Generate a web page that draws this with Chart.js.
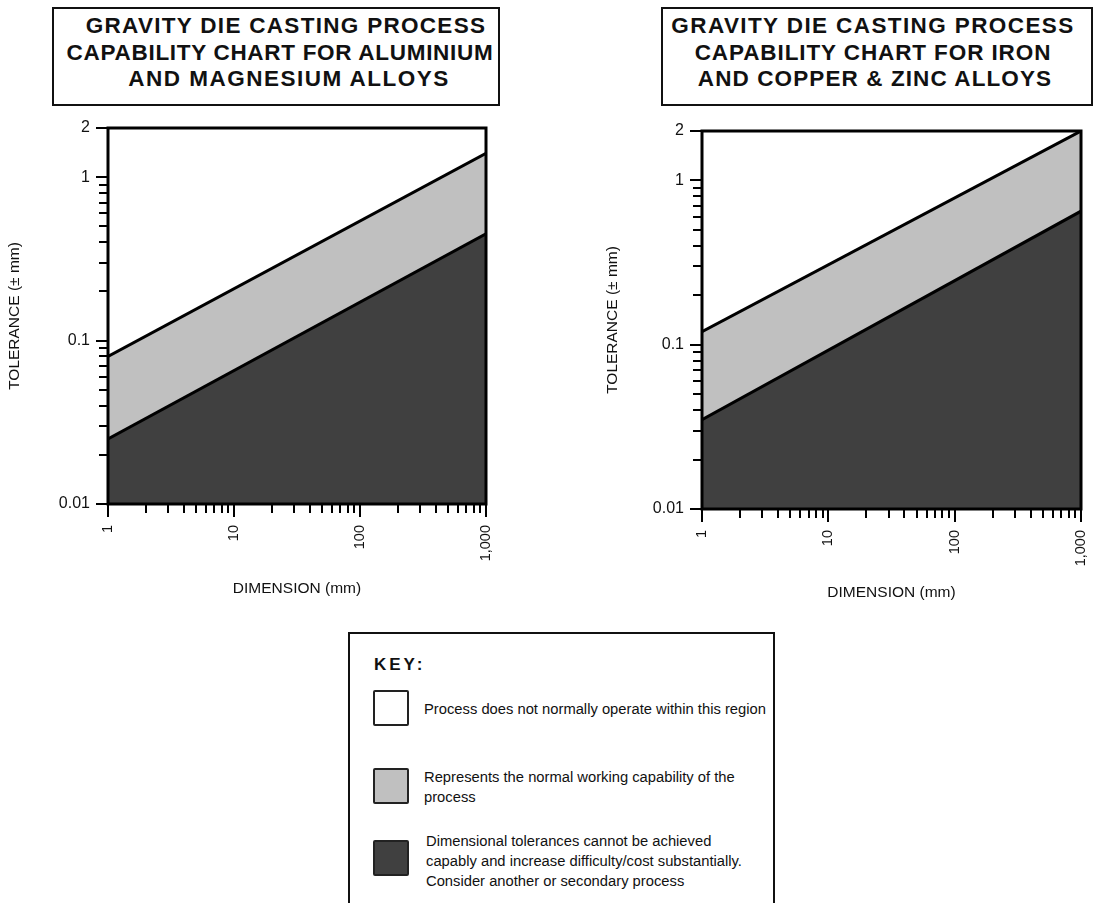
<!DOCTYPE html>
<html>
<head>
<meta charset="utf-8">
<script src="https://cdn.jsdelivr.net/npm/chart.js@4.4.0/dist/chart.umd.min.js"></script>
<style>
  html, body { margin: 0; padding: 0; background: #fff; }
  body {
    position: relative; width: 1098px; height: 903px; overflow: hidden;
    font-family: "Liberation Sans", Arial, Helvetica, sans-serif; color: #111;
  }
  .title-box {
    position: absolute; top: 7px; height: 91px;
    border: 2px solid #111;
    padding-top: 4px;
    font-weight: bold; font-size: 22.5px; letter-spacing: 1px;
    line-height: 26.5px; text-align: center; white-space: nowrap;
  }
  .title-box div { position: relative; }
  .plot { position: absolute; }
  .key-box {
    position: absolute; left: 348px; top: 632px; width: 423px; height: 300px;
    border: 2px solid #111;
  }
  .key-title {
    position: absolute; left: 24px; top: 22px; line-height: 18px;
    font-weight: bold; font-size: 17px; letter-spacing: 3px;
  }
  .swatch {
    position: absolute; left: 23px; width: 32px; height: 32px;
    border: 2px solid #222; border-radius: 2px;
  }
  .key-text {
    position: absolute; font-size: 14.75px; line-height: 20px; white-space: nowrap;
  }
</style>
</head>
<body>

<div class="title-box" style="left:52px; width:444px;">
  <div style="left:10px; letter-spacing:1.3px;">GRAVITY DIE CASTING PROCESS</div>
  <div style="left:4px; letter-spacing:0.7px;">CAPABILITY CHART FOR ALUMINIUM</div>
  <div style="left:13px; letter-spacing:1.5px;">AND MAGNESIUM ALLOYS</div>
</div>
<div class="title-box" style="left:661px; width:428px;">
  <div style="left:-4px; letter-spacing:1.4px;">GRAVITY DIE CASTING PROCESS</div>
  <div style="left:-4px; letter-spacing:0.9px;">CAPABILITY CHART FOR IRON</div>
  <div style="left:-2px; letter-spacing:1.1px;">AND COPPER &amp; ZINC ALLOYS</div>
</div>

<div class="plot" style="left:0px; top:110px;"><canvas id="alChart" width="520" height="500"></canvas></div>
<div class="plot" style="left:598px; top:110px;"><canvas id="feChart" width="500" height="500"></canvas></div>

<div class="key-box">
  <div class="key-title">KEY:</div>
  <div class="swatch" style="top:56px; background:#ffffff;"></div>
  <div class="key-text" style="left:74px; top:65px;">Process does not normally operate within this region</div>
  <div class="swatch" style="top:134px; background:#c0c0c0;"></div>
  <div class="key-text" style="left:74px; top:133px;">Represents the normal working capability of the<br>process</div>
  <div class="swatch" style="top:206px; background:#404040;"></div>
  <div class="key-text" style="left:76px; top:197px;">Dimensional tolerances cannot be achieved<br>capably and increase difficulty/cost substantially.<br>Consider another or secondary process</div>
</div>

<script>
// Band edges at 1 mm and 1,000 mm (tolerance in ± mm)
const dimensionMm = [1, 1000];
const alNormalUpper = [0.08, 1.4];
const alNormalLower = [0.025, 0.45];
const feNormalUpper = [0.12, 2];
const feNormalLower = [0.035, 0.65];

// Axis ticks
const xMajor = [1, 10, 100, 1000];
const xTickLabels = ['1', '10', '100', '1,000'];
const xMinor = [2, 3, 4, 5, 6, 7, 8, 9, 20, 30, 40, 50, 60, 70, 80, 90, 200, 300, 400, 500, 600, 700, 800, 900];
const yMajor = [0.01, 0.1, 1, 2];
const yTickLabels = ['0.01', '0.1', '1', '2'];
const yMinor = [0.02, 0.03, 0.04, 0.05, 0.06, 0.07, 0.08, 0.09, 0.2, 0.3, 0.4, 0.5, 0.6, 0.7, 0.8, 0.9];

const LIGHT = '#c0c0c0';
const DARK = '#404040';

Chart.defaults.font.family = '"Liberation Sans", Arial, Helvetica, sans-serif';
Chart.defaults.color = '#111';

// frame around the plot plus outward tick marks (long on decades, short otherwise)
const frameAndTicks = {
  id: 'frameAndTicks',
  afterDraw(chart) {
    const { ctx, chartArea: a, scales: { x, y } } = chart;
    ctx.save();
    ctx.strokeStyle = '#000';
    ctx.lineWidth = 2;
    ctx.beginPath();
    x.ticks.forEach(t => {
      const px = Math.round(x.getPixelForValue(t.value));
      const len = xMajor.includes(t.value) ? 13 : 9;
      ctx.moveTo(px, a.bottom);
      ctx.lineTo(px, a.bottom + len);
    });
    y.ticks.forEach(t => {
      const py = Math.round(y.getPixelForValue(t.value));
      const len = yMajor.includes(t.value) ? 12 : 9;
      ctx.moveTo(a.left, py);
      ctx.lineTo(a.left - len, py);
    });
    ctx.stroke();
    ctx.lineWidth = 3;
    ctx.strokeRect(a.left, a.top, a.width, a.height);
    ctx.restore();
  }
};

function buildChart(id, lower, upper, box) {
  return new Chart(document.getElementById(id), {
    type: 'line',
    data: {
      datasets: [{
        data: dimensionMm.map((d, i) => ({ x: d, y: lower[i] })),
        borderColor: '#000',
        borderWidth: 3,
        backgroundColor: DARK,
        fill: 'start',
        pointRadius: 0
      }, {
        data: dimensionMm.map((d, i) => ({ x: d, y: upper[i] })),
        borderColor: '#000',
        borderWidth: 3,
        backgroundColor: LIGHT,
        fill: '-1',
        pointRadius: 0
      }]
    },
    options: {
      responsive: false,
      animation: false,
      events: [],
      layout: { padding: { top: box.top, right: box.right, left: 0, bottom: 0 } },
      plugins: {
        legend: { display: false },
        tooltip: { enabled: false }
      },
      scales: {
        x: {
          type: 'logarithmic',
          min: 1,
          max: 1000,
          afterBuildTicks: s => { s.ticks = xMajor.concat(xMinor).sort((a, b) => a - b).map(v => ({ value: v })); },
          afterFit: s => { s.height = box.xHeight; s.paddingLeft = 0; s.paddingRight = 0; },
          border: { display: false },
          grid: { drawOnChartArea: false, tickLength: 12, tickColor: 'rgba(0,0,0,0)' },
          ticks: {
            autoSkip: false,
            minRotation: 90,
            maxRotation: 90,
            padding: 9,
            font: { size: 14.5 },
            callback: v => { const i = xMajor.indexOf(v); return i >= 0 ? xTickLabels[i] : ''; }
          },
          title: {
            display: true,
            text: 'DIMENSION (mm)',
            font: { size: 15.5 },
            padding: { top: 0, bottom: box.xTitlePad }
          }
        },
        y: {
          type: 'logarithmic',
          min: 0.01,
          max: 2,
          afterBuildTicks: s => { s.ticks = yMajor.concat(yMinor).sort((a, b) => a - b).map(v => ({ value: v })); },
          afterFit: s => { s.width = box.yWidth; },
          border: { display: false },
          grid: { drawOnChartArea: false, tickLength: 12, tickColor: 'rgba(0,0,0,0)' },
          ticks: {
            autoSkip: false,
            padding: 6,
            font: { size: 16 },
            callback: v => { const i = yMajor.indexOf(v); return i >= 0 ? yTickLabels[i] : ''; }
          },
          title: {
            display: true,
            text: 'TOLERANCE (± mm)',
            font: { size: 15.5 },
            padding: { top: 5, bottom: 0 }
          }
        }
      }
    },
    plugins: [frameAndTicks]
  });
}

buildChart('alChart', alNormalLower, alNormalUpper, { top: 18, right: 34, yWidth: 108, xHeight: 106, xTitlePad: 12 });
buildChart('feChart', feNormalLower, feNormalUpper, { top: 21, right: 17, yWidth: 104, xHeight: 101, xTitlePad: 8 });
</script>
</body>
</html>
